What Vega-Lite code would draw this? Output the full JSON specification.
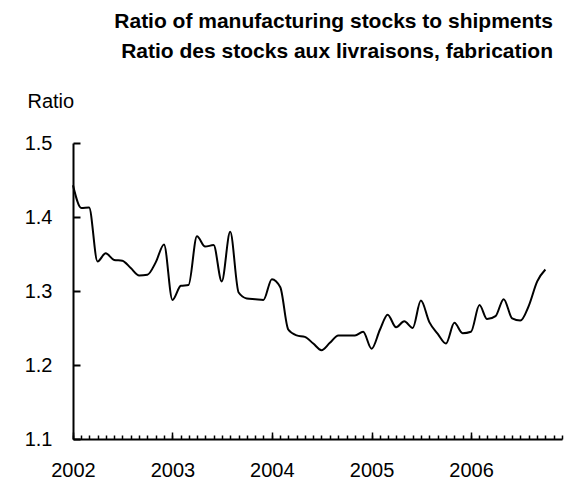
{
  "$schema": "https://vega.github.io/schema/vega-lite/v6.json",
  "autosize": "none",
  "width": 489,
  "height": 296,
  "padding": {"left": 73, "top": 143, "right": 15, "bottom": 40},
  "background": "white",
  "title": {
    "text": ["Ratio of manufacturing stocks to shipments", "Ratio des stocks aux livraisons, fabrication"],
    "font": "Liberation Sans",
    "fontSize": 21,
    "fontWeight": "bold",
    "color": "black",
    "anchor": "end",
    "frame": "group",
    "dx": -9,
    "baseline": "bottom",
    "lineHeight": 30,
    "offset": 8
  },
  "config": {"view": {"stroke": null}},
  "data": {
    "values": [
      {"date": "2002-01-01", "ratio": 1.443}, {"date": "2002-02-01", "ratio": 1.412}, {"date": "2002-03-01", "ratio": 1.413},
      {"date": "2002-04-01", "ratio": 1.340}, {"date": "2002-05-01", "ratio": 1.351}, {"date": "2002-06-01", "ratio": 1.342},
      {"date": "2002-07-01", "ratio": 1.341}, {"date": "2002-08-01", "ratio": 1.331}, {"date": "2002-09-01", "ratio": 1.321},
      {"date": "2002-10-01", "ratio": 1.322}, {"date": "2002-11-01", "ratio": 1.339}, {"date": "2002-12-01", "ratio": 1.363},
      {"date": "2003-01-01", "ratio": 1.288}, {"date": "2003-02-01", "ratio": 1.307}, {"date": "2003-03-01", "ratio": 1.308},
      {"date": "2003-04-01", "ratio": 1.374}, {"date": "2003-05-01", "ratio": 1.360}, {"date": "2003-06-01", "ratio": 1.362},
      {"date": "2003-07-01", "ratio": 1.313}, {"date": "2003-08-01", "ratio": 1.380}, {"date": "2003-09-01", "ratio": 1.298},
      {"date": "2003-10-01", "ratio": 1.290}, {"date": "2003-11-01", "ratio": 1.289}, {"date": "2003-12-01", "ratio": 1.288},
      {"date": "2004-01-01", "ratio": 1.316}, {"date": "2004-02-01", "ratio": 1.305}, {"date": "2004-03-01", "ratio": 1.248},
      {"date": "2004-04-01", "ratio": 1.240}, {"date": "2004-05-01", "ratio": 1.238}, {"date": "2004-06-01", "ratio": 1.229},
      {"date": "2004-07-01", "ratio": 1.220}, {"date": "2004-08-01", "ratio": 1.230}, {"date": "2004-09-01", "ratio": 1.240},
      {"date": "2004-10-01", "ratio": 1.240}, {"date": "2004-11-01", "ratio": 1.240}, {"date": "2004-12-01", "ratio": 1.245},
      {"date": "2005-01-01", "ratio": 1.222}, {"date": "2005-02-01", "ratio": 1.248}, {"date": "2005-03-01", "ratio": 1.268},
      {"date": "2005-04-01", "ratio": 1.251}, {"date": "2005-05-01", "ratio": 1.259}, {"date": "2005-06-01", "ratio": 1.250},
      {"date": "2005-07-01", "ratio": 1.287}, {"date": "2005-08-01", "ratio": 1.258}, {"date": "2005-09-01", "ratio": 1.242},
      {"date": "2005-10-01", "ratio": 1.229}, {"date": "2005-11-01", "ratio": 1.257}, {"date": "2005-12-01", "ratio": 1.243},
      {"date": "2006-01-01", "ratio": 1.245}, {"date": "2006-02-01", "ratio": 1.281}, {"date": "2006-03-01", "ratio": 1.262},
      {"date": "2006-04-01", "ratio": 1.266}, {"date": "2006-05-01", "ratio": 1.289}, {"date": "2006-06-01", "ratio": 1.263},
      {"date": "2006-07-01", "ratio": 1.260}, {"date": "2006-08-01", "ratio": 1.280}, {"date": "2006-09-01", "ratio": 1.313},
      {"date": "2006-10-01", "ratio": 1.329}
    ]
  },
  "resolve": {"axis": {"x": "independent", "y": "independent"}},
  "layer": [
    {
      "mark": {"type": "line", "color": "black", "strokeWidth": 2, "interpolate": "monotone"},
      "encoding": {
        "x": {
          "field": "date",
          "type": "temporal",
          "scale": {"type": "utc", "domain": ["2002-01-01", "2006-12-01"], "nice": false},
          "axis": {
            "orient": "bottom",
            "title": null,
            "tickCount": {"interval": "year", "step": 1},
            "format": "%Y",
            "labelOverlap": false,
            "labelFlush": false,
            "labelFont": "Liberation Sans",
            "labelFontSize": 20,
            "labelColor": "black",
            "labelPadding": 21,
            "ticks": false,
            "domainColor": "black",
            "domainWidth": 2,
            "grid": false
          }
        },
        "y": {
          "field": "ratio",
          "type": "quantitative",
          "scale": {"domain": [1.1, 1.5], "nice": false, "zero": false},
          "axis": {
            "orient": "left",
            "title": "Ratio",
            "titleFont": "Liberation Sans",
            "titleFontSize": 20,
            "titleFontWeight": "normal",
            "titleColor": "black",
            "titleAngle": 0,
            "titleAlign": "left",
            "titleBaseline": "alphabetic",
            "titleX": -46,
            "titleY": -36,
            "values": [1.1, 1.2, 1.3, 1.4, 1.5],
            "format": ".1f",
            "labelFont": "Liberation Sans",
            "labelFontSize": 20,
            "labelColor": "black",
            "labelPadding": 21,
            "ticks": false,
            "domainColor": "black",
            "domainWidth": 2,
            "grid": false
          }
        }
      }
    },
    {
      "mark": {"type": "line", "strokeOpacity": 0},
      "encoding": {
        "x": {
          "field": "date",
          "type": "temporal",
          "axis": {
            "orient": "bottom",
            "title": null,
            "tickCount": {"interval": "month", "step": 1},
            "labels": false,
            "domain": false,
            "offset": -4,
            "tickSize": 4,
            "tickColor": "black",
            "tickWidth": 1.5,
            "grid": false
          }
        },
        "y": {
          "field": "ratio",
          "type": "quantitative",
          "axis": {
            "orient": "left",
            "title": null,
            "values": [1.1, 1.2, 1.3, 1.4, 1.5],
            "labels": false,
            "domain": false,
            "offset": -7,
            "tickSize": 7,
            "tickColor": "black",
            "tickWidth": 2,
            "grid": false
          }
        }
      }
    },
    {
      "mark": {"type": "line", "strokeOpacity": 0},
      "encoding": {
        "x": {
          "field": "date",
          "type": "temporal",
          "axis": {
            "orient": "bottom",
            "title": null,
            "tickCount": {"interval": "year", "step": 1},
            "labels": false,
            "domain": false,
            "offset": -7,
            "tickSize": 7,
            "tickColor": "black",
            "tickWidth": 1.5,
            "grid": false
          }
        },
        "y": {"field": "ratio", "type": "quantitative", "axis": null}
      }
    }
  ]
}
